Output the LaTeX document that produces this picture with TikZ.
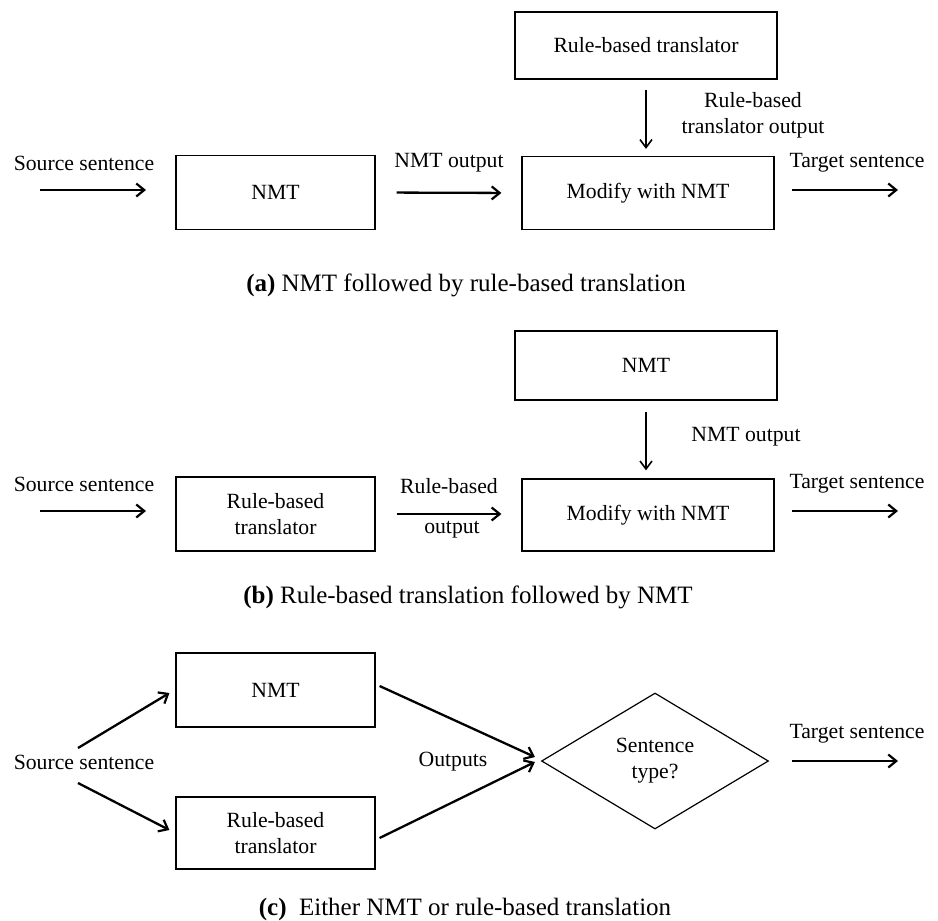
\documentclass[tikz,border=0pt]{standalone}
\usepackage{fontspec}
\setmainfont{Liberation Serif}
\usetikzlibrary{arrows.meta,shapes.geometric}
\begin{document}
\begin{tikzpicture}[x=1pt,y=-1pt,
  txt/.style={font=\fontsize{21.7}{26}\selectfont, inner sep=0pt, align=center},
  boxnode/.style={draw, line width=1.2pt, txt, inner sep=0pt},
  arr/.style={line width=2.3pt, -{Straight Barb[length=8pt,width=13pt,line width=2.2pt]}},
  varr/.style={line width=1.6pt, -{Straight Barb[length=8pt,width=12pt,line width=1.6pt]}},
  captext/.style={font=\fontsize{25}{30}\selectfont, inner sep=0pt}
]
\useasboundingbox (0,0) rectangle (938,921);

% ---------- (a) ----------
\node[boxnode, minimum width=262pt, minimum height=67pt] (ruleA) at (646,45.5) {Rule-based translator};
\node[boxnode, minimum width=199pt, minimum height=74pt] (nmtA) at (275.5,192.5) {NMT};
\node[boxnode, minimum width=252pt, minimum height=73pt] (modA) at (648,193) {Modify with NMT};
\coordinate (sA1) at (40,190);
\coordinate (sA2) at (146,190);
\coordinate (tA1) at (792,190);
\coordinate (tA2) at (898,190);
\draw[arr] (sA1) -- (sA2);
\draw[arr] (tA1) -- (tA2);
\draw[arr, shorten <=21pt, shorten >=20pt] (nmtA.east) -- (modA.west);
\draw[varr, shorten <=10pt, shorten >=7pt] (ruleA.south) -- (ruleA.south |- modA.north);
\node[txt] (lsA) at (84,163) {Source sentence};
\node[txt] (loA) at (449,163) {NMT output};
\node[txt] (ltA) at (857,163) {Target sentence};
\node[txt] (lrA) at (753,115) {Rule-based\\translator output};
\node[captext] (capA) at (466,285) {\textbf{(a)} NMT followed by rule-based translation};

% ---------- (b) ----------
\node[boxnode, minimum width=262pt, minimum height=69pt] (nmtB) at (646,365.5) {NMT};
\node[boxnode, minimum width=199pt, minimum height=74pt] (ruleB) at (275.5,514) {Rule-based\\translator};
\node[boxnode, minimum width=252pt, minimum height=72pt] (modB) at (648,515) {Modify with NMT};
\coordinate (sB1) at (40,511);
\coordinate (sB2) at (146,511);
\coordinate (tB1) at (792,511);
\coordinate (tB2) at (898,511);
\draw[arr] (sB1) -- (sB2);
\draw[arr] (tB1) -- (tB2);
\draw[arr, shorten <=21pt, shorten >=20pt] (ruleB.east) -- (ruleB.east -| modB.west);
\draw[varr, shorten <=11pt, shorten >=8pt] (nmtB.south) -- (nmtB.south |- modB.north);
\node[txt] (lsB) at (84,484) {Source sentence};
\node[txt] (loB1) at (449,486) {Rule-based};
\node[txt] (loB2) at (452,530) {output};
\node[txt] (ltB) at (857,484) {Target sentence};
\node[txt] (lnB) at (746,437) {NMT output};
\node[captext] (capB) at (468,597) {\textbf{(b)} Rule-based translation followed by NMT};

% ---------- (c) ----------
\node[boxnode, minimum width=199pt, minimum height=74pt] (nmtC) at (275.5,690) {NMT};
\node[boxnode, minimum width=199pt, minimum height=72pt] (ruleC) at (275.5,833) {Rule-based\\translator};
\node[draw, line width=1.2pt, shape=diamond, minimum width=227pt, minimum height=136pt, inner sep=0pt, aspect=1.67, txt] (dia) at (655,761) {Sentence\\type?};
\node[txt] (lsC) at (84,762) {Source sentence};
\node[txt] (loC) at (453,762) {Outputs};
\node[txt] (ltC) at (857,734) {Target sentence};
\coordinate (sC1) at (78,748);
\coordinate (sC2) at (78,783);
\coordinate (tC1) at (792,761);
\coordinate (tC2) at (898,761);
\draw[arr] (sC1) -- ([xshift=-6pt,yshift=-3pt]nmtC.west);
\draw[arr] (sC2) -- ([xshift=-6pt,yshift=3pt]ruleC.west);
\draw[arr] ([xshift=4pt,yshift=4pt]nmtC.east) -- ([xshift=-6pt,yshift=4pt]dia.west);
\draw[arr] ([xshift=4pt,yshift=-5pt]ruleC.east) -- ([xshift=-6pt,yshift=-1pt]dia.west);
\draw[arr] (tC1) -- (tC2);
\node[captext] (capC) at (465,909) {\textbf{(c)}\ \ Either NMT or rule-based translation};
\end{tikzpicture}
\end{document}
